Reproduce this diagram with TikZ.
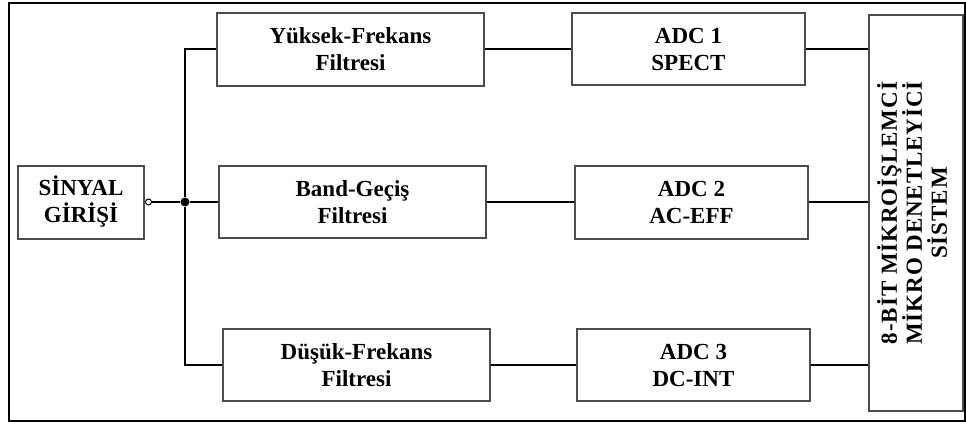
\documentclass[tikz,border=0pt]{standalone}
\usepackage{fontspec}
\setmainfont{Liberation Serif}
\usetikzlibrary{calc,positioning}

\begin{document}
\begin{tikzpicture}[x=1pt,y=-1pt,
    blok/.style={draw=black!70,line width=2pt,align=center,inner sep=0pt,
      font=\bfseries\fontsize{23}{27}\selectfont},
    hat/.style={line width=2.6pt}]
  \useasboundingbox (0,0) rectangle (966,423);
  \draw[line width=2.8pt] (9,3) rectangle (965,421);
  % giris ve filtreler
  \node[blok,minimum width=126pt,minimum height=73pt] (giris) at (81,202) {S\.INYAL\\G\.IR\.I\c{S}\.I};
  \node[blok,minimum width=267pt,minimum height=73pt] (yuksek) at (350.5,49) {Yüksek-Frekans\\Filtresi};
  \node[blok,minimum width=267pt,minimum height=72pt] (bant) at (352.5,202) {Band-Geçiş\\Filtresi};
  \node[blok,minimum width=267pt,minimum height=72pt] (dusuk) at (356.5,365) {Düşük-Frekans\\Filtresi};
  % adc bloklari
  \node[blok,minimum width=233pt,minimum height=72pt] (adcA) at (688.5,49) {ADC 1\\SPECT};
  \node[blok,minimum width=233pt,minimum height=73pt] (adcB) at (691.5,202) {ADC 2\\AC-EFF};
  \node[blok,minimum width=233pt,minimum height=72pt] (adcC) at (693.5,365) {ADC 3\\DC-INT};
  \node[blok,minimum width=94pt,minimum height=396pt] (mcu) at (916,213) {};
  \node[rotate=90,align=center,font=\bfseries\fontsize{23}{25}\selectfont\addfontfeature{LetterSpace=4}] (mcuyazi) at ($(mcu.center)+(-4,0)$)
    {8-B\.IT M\.IKRO\.I\c{S}LEMC\.I\\M\.IKRO DENETLEY\.IC\.I\\S\.ISTEM};
  % baglantilar
  \node[circle,draw,line width=1pt,fill=white,inner sep=0pt,minimum size=6pt,anchor=west] (uc) at (giris.east) {};
  \node[circle,fill,inner sep=0pt,minimum size=9pt] (dugum) at (185,202) {};
  \draw[hat] (uc) -- (dugum) -- (bant.west);
  \draw[hat] (dugum) |- (yuksek.west);
  \draw[hat] (dugum) |- (dusuk.west);
  \draw[hat] (yuksek) -- (adcA);
  \draw[hat] (bant) -- (adcB);
  \draw[hat] (dusuk) -- (adcC);
  \draw[hat] (adcA.east) -- (adcA.east -| mcu.west);
  \draw[hat] (adcB.east) -- (adcB.east -| mcu.west);
  \draw[hat] (adcC.east) -- (adcC.east -| mcu.west);
\end{tikzpicture}
\end{document}
